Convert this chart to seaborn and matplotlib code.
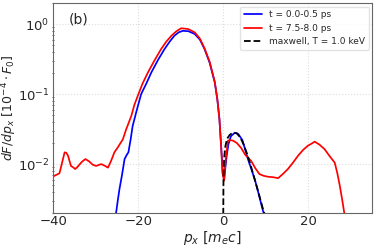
import numpy as np
import pandas as pd
import matplotlib
matplotlib.use("Agg")
import matplotlib.pyplot as plt
import seaborn as sns

# valeurs (px en m_e c, dF/dpx en 10^-4 F0)
px_early = [-25.2, -24.8, -24.4, -23.8, -23.2, -22.7, -22.3, -21.8, -21.3, -20.3,
            -19.3, -18.0, -16.9, -15.3, -13.8, -12.6, -11.5, -10.5, -9.5, -8.2,
            -6.7, -5.5, -4.4, -3.2, -2.0, -1.4, -0.9, -0.5, -0.1, 0.2,
            0.5, 0.8, 1.2, 1.8, 2.7, 3.5, 4.5, 5.8, 6.6, 7.4,
            8.3, 9.3, 9.6]
f_early = [0.002, 0.003, 0.0044, 0.007, 0.0118, 0.0135, 0.0147, 0.022, 0.035, 0.06,
           0.1, 0.145, 0.204, 0.31, 0.44, 0.56, 0.68, 0.76, 0.80, 0.79,
           0.72, 0.60, 0.44, 0.28, 0.147, 0.085, 0.044, 0.018, 0.0076, 0.006,
           0.009, 0.013, 0.019, 0.025, 0.028, 0.027, 0.022, 0.0118, 0.0085, 0.0061,
           0.0038, 0.0022, 0.0019]

px_late = [-40.0, -39.7, -38.5, -37.8, -37.3, -36.9, -36.5, -35.8, -35.3, -34.8,
           -34.2, -33.4, -32.9, -32.4, -31.5, -30.7, -29.9, -29.3, -28.7, -27.9,
           -27.1, -26.4, -25.6, -24.8, -23.6, -22.8, -21.6, -20.9, -20.1, -19.0,
           -17.7, -16.2, -14.6, -13.4, -12.2, -11.0, -9.9, -8.3, -6.7, -5.5,
           -4.4, -3.2, -2.0, -1.4, -0.9, -0.5, -0.2, 0.2, 0.6, 1.1,
           1.6, 2.3, 3.2, 4.2, 5.2, 6.6, 7.5, 8.5, 9.5, 10.5,
           11.7, 12.9, 14.0, 15.2, 16.4, 17.6, 18.8, 19.9, 20.7, 21.5,
           22.6, 23.8, 25.0, 26.2, 26.8, 27.4, 28.0, 28.4, 28.6]
f_late = [0.0066, 0.0068, 0.0074, 0.011, 0.0147, 0.0145, 0.0132, 0.0094, 0.009, 0.0085,
          0.0092, 0.0105, 0.0112, 0.0118, 0.0109, 0.0098, 0.0094, 0.0097, 0.0100, 0.0095,
          0.0089, 0.011, 0.0147, 0.0173, 0.0226, 0.0316, 0.049, 0.07, 0.094, 0.14,
          0.204, 0.30, 0.44, 0.56, 0.68, 0.79, 0.87, 0.85, 0.76, 0.62,
          0.45, 0.29, 0.15, 0.085, 0.044, 0.018, 0.0075, 0.0058, 0.012, 0.0216,
          0.022, 0.0216, 0.020, 0.017, 0.0135, 0.011, 0.0088, 0.0072, 0.0068, 0.0066,
          0.0065, 0.0063, 0.0072, 0.0085, 0.0105, 0.0132, 0.016, 0.0183, 0.0195, 0.0209,
          0.019, 0.0164, 0.013, 0.0105, 0.0075, 0.0049, 0.003, 0.0021, 0.0018]

px_maxwell = [0.0, 0.05, 0.2, 0.5, 0.9, 1.5, 2.0, 2.6, 3.2, 4.0,
              4.8, 5.6, 6.4, 7.2, 8.0, 8.8, 9.5, 9.8]
f_maxwell = [0.0019, 0.006, 0.012, 0.018, 0.023, 0.026, 0.0275, 0.028, 0.0275, 0.024,
             0.019, 0.014, 0.0098, 0.0066, 0.0045, 0.003, 0.0021, 0.0019]

labels = ["t = 0.0-0.5 ps", "t = 7.5-8.0 ps", "maxwell, T = 1.0 keV"]

sns.set_theme(style="whitegrid")
plt.rcParams["font.family"] = ["DejaVu Sans"]

fig = plt.figure(figsize=(3.74, 2.46), dpi=100)
ax = fig.add_axes([0.142, 0.134, 0.853, 0.854])

sns.lineplot(x=px_early, y=f_early, ax=ax, color="blue", lw=1.25, label=labels[0])
sns.lineplot(x=px_late, y=f_late, ax=ax, color="red", lw=1.25, label=labels[1])
sns.lineplot(x=px_maxwell, y=f_maxwell, ax=ax, color="black", lw=1.3,
             linestyle="--", label=labels[2])

ax.set_yscale("log")
ax.set_xlim(-40, 35)
ax.set_ylim(2e-3, 2)
ax.set_xticks([-40, -20, 0, 20])

ax.grid(True, which="major", color="#dddddd", linestyle=":", linewidth=0.8)
for s in ax.spines.values():
    s.set_color("#666666")
    s.set_linewidth(0.8)
ax.tick_params(axis="both", which="major", labelsize=9.5, pad=2.5, length=0)
ax.tick_params(axis="x", which="major", pad=1.5)
ax.tick_params(axis="y", which="minor", left=True, length=2, width=0.6,
               direction="inout", color="#444444")

ax.set_xlabel(r"$p_x\ [m_e c]$", fontsize=10)
ax.xaxis.set_label_coords(0.5, -0.074)
ax.set_ylabel(r"$dF/dp_x\ [10^{-4}\cdot F_0]$", fontsize=9)
ax.yaxis.set_label_coords(-0.108, 0.5)
ax.text(0.05, 0.92, "(b)", transform=ax.transAxes, fontsize=10, va="center")

ax.legend(loc="upper right", fontsize=6.5, frameon=True, edgecolor="#dddddd",
          borderaxespad=0.4)

fig.savefig("out.png", dpi=100)
